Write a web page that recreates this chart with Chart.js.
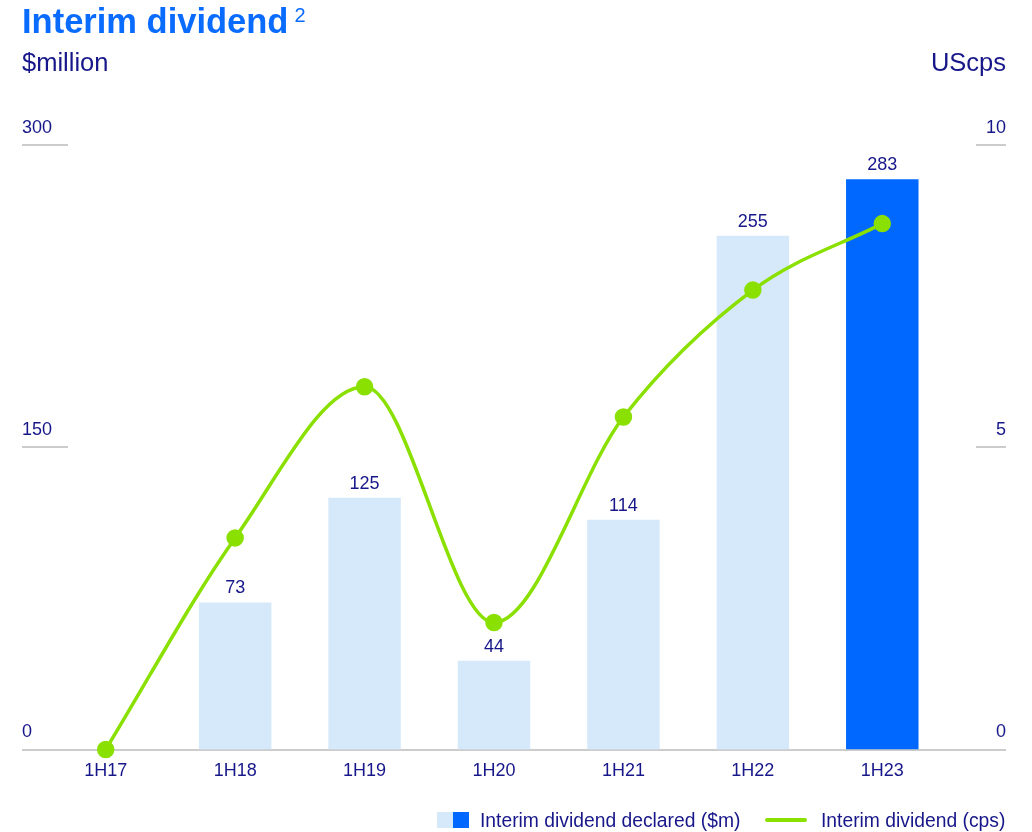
<!DOCTYPE html>
<html>
<head>
<meta charset="utf-8">
<script src="https://cdn.jsdelivr.net/npm/chart.js@4"></script>
<style>
  body { margin: 0; background: #fff; font-family: "Liberation Sans", Arial, sans-serif; color: #17178a; }
  #wrap { position: relative; width: 1032px; height: 832px; }
  canvas { position: absolute; left: 0; top: 0; }
  .title { position: absolute; left: 22px; top: 2px; font-size: 34.5px; font-weight: bold; color: #0a6cff; white-space: nowrap; }
  .title sup { font-size: 20px; font-weight: normal; vertical-align: 11px; margin-left: 6px; }
  .unit { position: absolute; top: 48px; font-size: 25.5px; white-space: nowrap; }
  .legend { position: absolute; top: 810px; font-size: 19.3px; white-space: nowrap; line-height: 22px; }
  .sw { position: absolute; width: 16px; height: 16px; }
  .ln { position: absolute; width: 42px; height: 4px; background: #8ae000; border-radius: 2px; }
</style>
</head>
<body>
<div id="wrap">
  <canvas id="dividendChart" width="1032" height="832"></canvas>
  <div class="title">Interim dividend<sup>2</sup></div>
  <div class="unit" style="left:22px">$million</div>
  <div class="unit" style="right:26px">UScps</div>
  <div class="sw" style="left:437px; top:812px; background:#d6e9fb"></div>
  <div class="sw" style="left:453px; top:812px; background:#0068ff"></div>
  <div class="legend" style="left:480px">Interim dividend declared ($m)</div>
  <div class="ln" style="left:765px; top:818px"></div>
  <div class="legend" style="left:821px">Interim dividend (cps)</div>
</div>
<script>
    const periods = ['1H17', '1H18', '1H19', '1H20', '1H21', '1H22', '1H23'];
    const declaredMillion = [null, 73, 125, 44, 114, 255, 283];
    const dividendCps = [0, 3.5, 6.0, 2.1, 5.5, 7.6, 8.7];
    const leftTicks = [0, 150, 300];
    const rightTicks = [0, 5, 10];

    const navy = '#17178a';
    const gridGray = '#cccccc';
    const barColors = declaredMillion.map((v, i) => i === declaredMillion.length - 1 ? '#0068ff' : '#d6e9fb');

    // grid stubs, tick labels, category labels and value labels
    const decorations = {
        id: 'decorations',
        beforeDatasetsDraw(chart) {
            const ctx = chart.ctx;
            const y = chart.scales.y, y1 = chart.scales.y1;
            ctx.save();
            ctx.strokeStyle = gridGray;
            ctx.lineWidth = 2;
            leftTicks.forEach(t => {
                const py = Math.round(y.getPixelForValue(t));
                ctx.beginPath();
                ctx.moveTo(22, py);
                ctx.lineTo(t === 0 ? 1006 : 68, py);
                ctx.stroke();
            });
            rightTicks.forEach(t => {
                const py = Math.round(y1.getPixelForValue(t));
                ctx.beginPath();
                ctx.moveTo(976, py);
                ctx.lineTo(1006, py);
                ctx.stroke();
            });
            ctx.font = '18px "Liberation Sans", Arial, sans-serif';
            ctx.fillStyle = navy;
            ctx.textBaseline = 'middle';
            ctx.textAlign = 'left';
            leftTicks.forEach(t => ctx.fillText(String(t), 22, y.getPixelForValue(t) - 17));
            ctx.textAlign = 'right';
            rightTicks.forEach(t => ctx.fillText(String(t), 1006, y1.getPixelForValue(t) - 17));
            ctx.textAlign = 'center';
            const x = chart.scales.x;
            periods.forEach((p, i) => ctx.fillText(p, x.getPixelForValue(i), y.getPixelForValue(0) + 22));
            ctx.restore();
        },
        afterDatasetsDraw(chart) {
            const ctx = chart.ctx;
            const meta = chart.getDatasetMeta(0);
            ctx.save();
            ctx.font = '18px "Liberation Sans", Arial, sans-serif';
            ctx.fillStyle = navy;
            ctx.textAlign = 'center';
            ctx.textBaseline = 'middle';
            meta.data.forEach((bar, i) => {
                if (declaredMillion[i] == null) return;
                ctx.fillText(String(declaredMillion[i]), bar.x, bar.y - 14);
            });
            ctx.restore();
        }
    };

    document.addEventListener('DOMContentLoaded', function() {
        new Chart(document.getElementById('dividendChart').getContext('2d'), {
            data: {
                labels: periods,
                datasets: [{
                    type: 'bar',
                    label: 'Interim dividend declared ($m)',
                    data: declaredMillion,
                    backgroundColor: barColors,
                    yAxisID: 'y',
                    barPercentage: 0.56,
                    categoryPercentage: 1,
                    order: 1
                }, {
                    type: 'line',
                    label: 'Interim dividend (cps)',
                    data: dividendCps,
                    borderColor: '#8ae000',
                    backgroundColor: '#8ae000',
                    borderWidth: 3.5,
                    pointRadius: 7,
                    pointHoverRadius: 7,
                    cubicInterpolationMode: 'monotone',
                    yAxisID: 'y1',
                    clip: false,
                    order: 0
                }]
            },
            options: {
                responsive: false,
                animation: false,
                layout: { padding: { left: 41, right: 85, top: 145, bottom: 82.5 } },
                plugins: { legend: { display: false }, tooltip: { enabled: false } },
                scales: {
                    x: { display: false },
                    y: { display: false, min: 0, max: 300 },
                    y1: { display: false, position: 'right', min: 0, max: 10 }
                }
            },
            plugins: [decorations]
        });
    });
</script>
</body>
</html>
